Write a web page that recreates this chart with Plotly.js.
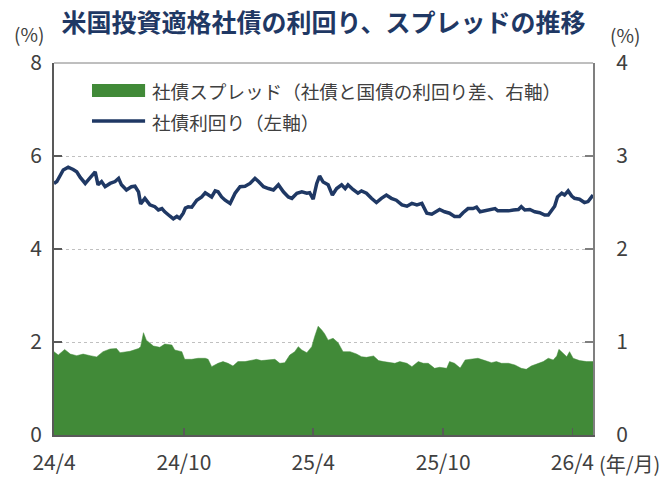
<!DOCTYPE html>
<html>
<head>
<meta charset="utf-8">
<script src="https://cdn.plot.ly/plotly-3.0.1.min.js"></script>
<style>html,body{margin:0;padding:0;background:#fff;}#chart{width:672px;height:477px;}</style>
</head>
<body>
<div id="chart"></div>
<script>
const chartTitle = '米国投資適格社債の利回り、スプレッドの推移';
const spreadName = '社債スプレッド（社債と国債の利回り差、右軸）';
const yieldName = '社債利回り（左軸）';
const tickDates = ['2024-04-01','2024-10-01','2025-04-01','2025-10-01','2026-04-01'];
const tickLabels = ['24/4','24/10','25/4','25/10','26/4'];
const leftTicks = [0,2,4,6,8];
const rightTicks = [0,1,2,3,4];

const yieldDates = ['2024-04-01','2024-04-05','2024-04-14','2024-04-21','2024-04-28','2024-05-03','2024-05-08','2024-05-15','2024-05-19','2024-05-24','2024-05-29','2024-06-02','2024-06-07','2024-06-12','2024-06-19','2024-06-26','2024-07-01','2024-07-05','2024-07-12','2024-07-19','2024-07-24','2024-07-29','2024-08-01','2024-08-07','2024-08-14','2024-08-21','2024-08-26','2024-08-31','2024-09-04','2024-09-11','2024-09-16','2024-09-21','2024-09-25','2024-09-30','2024-10-03','2024-10-07','2024-10-12','2024-10-19','2024-10-26','2024-10-31','2024-11-04','2024-11-09','2024-11-14','2024-11-18','2024-11-23','2024-11-28','2024-12-05','2024-12-12','2024-12-19','2024-12-26','2025-01-02','2025-01-09','2025-01-14','2025-01-21','2025-01-28','2025-02-04','2025-02-11','2025-02-18','2025-02-25','2025-03-02','2025-03-09','2025-03-16','2025-03-23','2025-03-27','2025-04-01','2025-04-06','2025-04-10','2025-04-15','2025-04-22','2025-04-28','2025-05-04','2025-05-11','2025-05-16','2025-05-20','2025-05-27','2025-06-03','2025-06-08','2025-06-15','2025-06-22','2025-06-29','2025-07-06','2025-07-13','2025-07-20','2025-07-27','2025-08-04','2025-08-11','2025-08-18','2025-08-25','2025-09-01','2025-09-08','2025-09-15','2025-09-22','2025-09-26','2025-10-03','2025-10-10','2025-10-17','2025-10-24','2025-10-29','2025-11-05','2025-11-12','2025-11-17','2025-11-22','2025-11-29','2025-12-06','2025-12-13','2025-12-17','2025-12-25','2026-01-01','2026-01-08','2026-01-15','2026-01-19','2026-01-24','2026-01-31','2026-02-07','2026-02-14','2026-02-21','2026-02-26','2026-03-03','2026-03-07','2026-03-11','2026-03-17','2026-03-21','2026-03-26','2026-03-31','2026-04-04','2026-04-11','2026-04-18','2026-04-23','2026-04-30'];
const yieldValues = [5.41,5.45,5.70,5.76,5.71,5.66,5.54,5.41,5.48,5.56,5.66,5.38,5.45,5.34,5.41,5.45,5.52,5.38,5.27,5.34,5.35,5.23,4.97,5.09,4.95,4.91,4.84,4.87,4.80,4.71,4.65,4.70,4.66,4.77,4.88,4.91,4.90,5.05,5.12,5.21,5.16,5.12,5.25,5.23,5.12,5.05,4.98,5.20,5.34,5.35,5.41,5.52,5.45,5.34,5.30,5.27,5.38,5.23,5.12,5.09,5.20,5.23,5.20,5.21,5.07,5.41,5.57,5.44,5.38,5.16,5.30,5.38,5.30,5.38,5.28,5.20,5.25,5.20,5.09,5.00,5.09,5.16,5.09,5.05,4.95,4.92,4.98,4.95,4.98,4.77,4.75,4.82,4.85,4.80,4.77,4.70,4.70,4.78,4.87,4.87,4.90,4.80,4.82,4.85,4.87,4.82,4.82,4.82,4.84,4.85,4.91,4.84,4.85,4.80,4.78,4.73,4.73,4.85,4.92,5.12,5.20,5.16,5.25,5.14,5.09,5.07,5.00,5.02,5.16];

const spreadDates = ['2024-04-01','2024-04-07','2024-04-16','2024-04-24','2024-05-03','2024-05-12','2024-05-22','2024-05-31','2024-06-09','2024-06-19','2024-06-28','2024-07-03','2024-07-17','2024-07-29','2024-08-01','2024-08-05','2024-08-09','2024-08-19','2024-08-28','2024-09-04','2024-09-14','2024-09-18','2024-09-28','2024-10-02','2024-10-12','2024-10-21','2024-10-31','2024-11-04','2024-11-09','2024-11-18','2024-11-25','2024-12-02','2024-12-09','2024-12-16','2024-12-26','2025-01-04','2025-01-11','2025-01-18','2025-01-28','2025-02-06','2025-02-13','2025-02-20','2025-02-27','2025-03-06','2025-03-11','2025-03-16','2025-03-23','2025-03-30','2025-04-03','2025-04-08','2025-04-13','2025-04-17','2025-04-22','2025-04-29','2025-05-06','2025-05-13','2025-05-23','2025-06-01','2025-06-08','2025-06-15','2025-06-25','2025-07-02','2025-07-09','2025-07-18','2025-07-25','2025-08-01','2025-08-11','2025-08-18','2025-08-27','2025-09-03','2025-09-10','2025-09-19','2025-09-26','2025-10-06','2025-10-10','2025-10-17','2025-10-25','2025-11-01','2025-11-10','2025-11-19','2025-11-29','2025-12-08','2025-12-15','2025-12-22','2026-01-01','2026-01-10','2026-01-19','2026-01-26','2026-02-02','2026-02-12','2026-02-19','2026-02-26','2026-03-05','2026-03-10','2026-03-13','2026-03-19','2026-03-24','2026-03-28','2026-04-02','2026-04-11','2026-04-21','2026-04-30'];
const spreadValues = [0.896,0.86,0.92,0.87,0.853,0.87,0.853,0.84,0.896,0.925,0.93,0.885,0.90,0.93,0.95,1.10,1.02,0.957,0.943,0.978,0.968,0.914,0.896,0.814,0.814,0.825,0.825,0.814,0.735,0.771,0.789,0.771,0.742,0.789,0.789,0.807,0.814,0.80,0.807,0.814,0.771,0.778,0.86,0.896,0.95,0.914,0.885,0.95,1.057,1.17,1.129,1.09,1.02,1.04,0.993,0.896,0.896,0.871,0.842,0.835,0.85,0.80,0.789,0.778,0.771,0.789,0.771,0.735,0.789,0.771,0.771,0.717,0.728,0.717,0.789,0.771,0.72,0.807,0.814,0.825,0.80,0.778,0.789,0.771,0.771,0.753,0.717,0.706,0.742,0.771,0.789,0.825,0.807,0.85,0.921,0.878,0.842,0.896,0.825,0.80,0.789,0.789];

const FONT = '"Noto Sans CJK JP", "Noto Sans", sans-serif';
const GREEN = '#418a38';
const NAVY = '#1f3864';
const TXT = '#404040';

const traces = [
  {x: spreadDates, y: spreadValues, name: spreadName, type: 'scatter', mode: 'lines',
   yaxis: 'y2', fill: 'tozeroy', fillcolor: GREEN, line: {color: GREEN, width: 0.5}, hoverinfo: 'skip'},
  {x: yieldDates, y: yieldValues, name: yieldName, type: 'scatter', mode: 'lines',
   yaxis: 'y', line: {color: NAVY, width: 3.5}}
];

const layout = {
  width: 672, height: 477,
  margin: {l: 54, r: 79, t: 63, b: 42},
  paper_bgcolor: '#ffffff', plot_bgcolor: '#ffffff',
  showlegend: false,
  font: {family: FONT, color: TXT, size: 18},
  title: {text: '<b>' + chartTitle + '</b>', font: {family: FONT, size: 25, color: NAVY},
          x: 0.5, xanchor: 'center', xref: 'paper', y: 0.952, yanchor: 'middle'},
  xaxis: {type: 'date', range: ['2024-04-01', '2026-04-30'], tickvals: tickDates, ticktext: tickLabels,
          ticks: 'inside', ticklen: 7, tickwidth: 1.5, tickcolor: '#595959',
          showline: true, linecolor: '#595959', linewidth: 2, showgrid: false, zeroline: false,
          tickfont: {size: 21, color: TXT}, ticklabelstandoff: 8},
  yaxis: {range: [0, 8], tickvals: leftTicks, ticks: 'inside', ticklen: 8, tickwidth: 1.5, tickcolor: '#595959',
          showline: true, linecolor: '#595959', linewidth: 2, showgrid: true, gridcolor: '#c0c0c0', griddash: 'dot',
          gridwidth: 1, zeroline: false, tickfont: {size: 21, color: TXT}, ticklabelstandoff: 6},
  yaxis2: {range: [0, 4], tickvals: rightTicks, overlaying: 'y', side: 'right', ticks: 'inside', ticklen: 8,
           tickwidth: 1.5, tickcolor: '#7f7f7f', showline: true, linecolor: '#7f7f7f', linewidth: 2,
           showgrid: false, zeroline: false, tickfont: {size: 21, color: TXT}, ticklabelstandoff: 17},
  shapes: [
    {type: 'line', xref: 'paper', yref: 'paper', x0: 0, x1: 1, y0: 1, y1: 1, line: {color: '#7f7f7f', width: 1}},
    {type: 'rect', xref: 'paper', yref: 'paper', x0: 0.0705, x1: 0.169, y0: 0.9086, y1: 0.9435,
     fillcolor: GREEN, line: {width: 0}},
    {type: 'line', xref: 'paper', yref: 'paper', x0: 0.0705, x1: 0.169, y0: 0.844, y1: 0.844,
     line: {color: NAVY, width: 3.5}}
  ],
  annotations: [
    {text: spreadName, xref: 'paper', yref: 'paper', x: 0.178, y: 0.927, xanchor: 'left', yanchor: 'middle',
     showarrow: false, font: {size: 18.6, color: TXT}},
    {text: yieldName, xref: 'paper', yref: 'paper', x: 0.178, y: 0.844, xanchor: 'left', yanchor: 'middle',
     showarrow: false, font: {size: 18.6, color: TXT}},
    {text: '(%)', xref: 'paper', yref: 'paper', x: -0.046, y: 1.08, xanchor: 'center', yanchor: 'middle',
     showarrow: false, font: {size: 19, color: TXT}},
    {text: '(%)', xref: 'paper', yref: 'paper', x: 1.059, y: 1.077, xanchor: 'center', yanchor: 'middle',
     showarrow: false, font: {size: 19, color: TXT}},
    {text: '(年/月)', xref: 'paper', yref: 'paper', x: 1.0074, y: -0.076, xanchor: 'left', yanchor: 'middle',
     showarrow: false, font: {size: 20, color: TXT}}
  ]
};

Plotly.newPlot('chart', traces, layout, {staticPlot: true, displayModeBar: false});
</script>
</body>
</html>
